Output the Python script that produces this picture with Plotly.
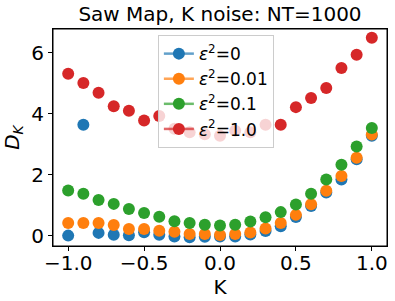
import plotly.graph_objects as go

K = [-1.0, -0.9, -0.8, -0.7, -0.6, -0.5, -0.4, -0.3, -0.2, -0.1, 0.0,
     0.1, 0.2, 0.3, 0.4, 0.5, 0.6, 0.7, 0.8, 0.9, 1.0]

d_eps0 = [0.00, 3.63, 0.09, 0.03, 0.01, 0.11, 0.03, -0.03, -0.05, -0.04, -0.03,
          -0.03, 0.04, 0.15, 0.31, 0.61, 0.97, 1.41, 1.84, 2.50, 3.27]
d_eps001 = [0.41, 0.41, 0.41, 0.35, 0.22, 0.22, 0.16, 0.13, 0.05, 0.05, 0.02,
            0.05, 0.10, 0.23, 0.41, 0.68, 1.03, 1.47, 1.95, 2.55, 3.31]
d_eps01 = [1.48, 1.37, 1.17, 1.04, 0.87, 0.74, 0.62, 0.47, 0.41, 0.36, 0.33,
           0.36, 0.46, 0.60, 0.77, 1.02, 1.37, 1.84, 2.32, 2.92, 3.53]
d_eps1 = [5.30, 5.00, 4.68, 4.24, 4.09, 3.77, 3.92, 3.50, 3.39, 3.32, 3.27,
          3.44, 3.39, 3.63, 3.63, 4.21, 4.51, 4.84, 5.49, 5.93, 6.48]

labels = ["<i>ε</i><sup>2</sup>=0", "<i>ε</i><sup>2</sup>=0.01",
          "<i>ε</i><sup>2</sup>=0.1", "<i>ε</i><sup>2</sup>=1.0"]
colors = ["#1f77b4", "#ff7f0e", "#2ca02c", "#d62728"]
line_colors = ["rgba(31,119,180,0.7)", "rgba(255,127,14,0.7)",
               "rgba(44,160,44,0.7)", "rgba(214,39,40,0.7)"]
series = [d_eps0, d_eps001, d_eps01, d_eps1]

FONT = "DejaVu Sans"
fig = go.Figure()
for ys, c in zip(series, colors):
    fig.add_trace(go.Scatter(x=K, y=ys, mode="markers",
                             marker=dict(color=c, size=12),
                             showlegend=False))
for lab, c, lc in zip(labels, colors, line_colors):
    fig.add_trace(go.Scatter(x=[None], y=[None], mode="lines+markers", name=lab,
                             marker=dict(color=c, size=12),
                             line=dict(color=lc, width=2.5)))

axis_common = dict(showline=True, linecolor="black", linewidth=1, mirror=True,
                   ticks="outside", ticklen=4, tickcolor="black", showgrid=False,
                   zeroline=False, automargin=False,
                   tickfont=dict(family=FONT, size=20, color="black"))

fig.update_layout(
    width=395, height=301,
    margin=dict(l=53, r=8, t=29, b=55),
    paper_bgcolor="white", plot_bgcolor="white",
    font=dict(family=FONT, color="black"),
    title=dict(text="Saw Map, K noise: NT=1000", x=0.557, xanchor="center",
               y=0.953, yanchor="middle", yref="container",
               font=dict(family=FONT, size=20, color="black")),
    xaxis=dict(range=[-1.1, 1.1], tickvals=[-1.0, -0.5, 0.0, 0.5, 1.0],
               ticktext=["−1.0", "−0.5", "0.0", "0.5", "1.0"],
               ticklabelstandoff=-5,
               title=dict(text="K", font=dict(family=FONT, size=20), standoff=0),
               **axis_common),
    yaxis=dict(range=[-0.34, 6.77], tickvals=[0, 2, 4, 6],
               title=dict(text="<i>D<sub>K</sub></i>", font=dict(family=FONT, size=20), standoff=8),
               **axis_common),
    legend=dict(x=0.314, y=0.972, xanchor="left", yanchor="top",
                bgcolor="rgba(255,255,255,0.8)", bordercolor="#cccccc", borderwidth=1,
                font=dict(family=FONT, size=17, color="black")),
    shapes=[dict(type="rect", xref="x domain", yref="y domain", x0=0, x1=1, y0=0, y1=1,
                 line=dict(color="black", width=1), layer="above")],
)

fig.write_html("out.html", config={"displayModeBar": False},
               post_script="document.body.style.margin='0';")
